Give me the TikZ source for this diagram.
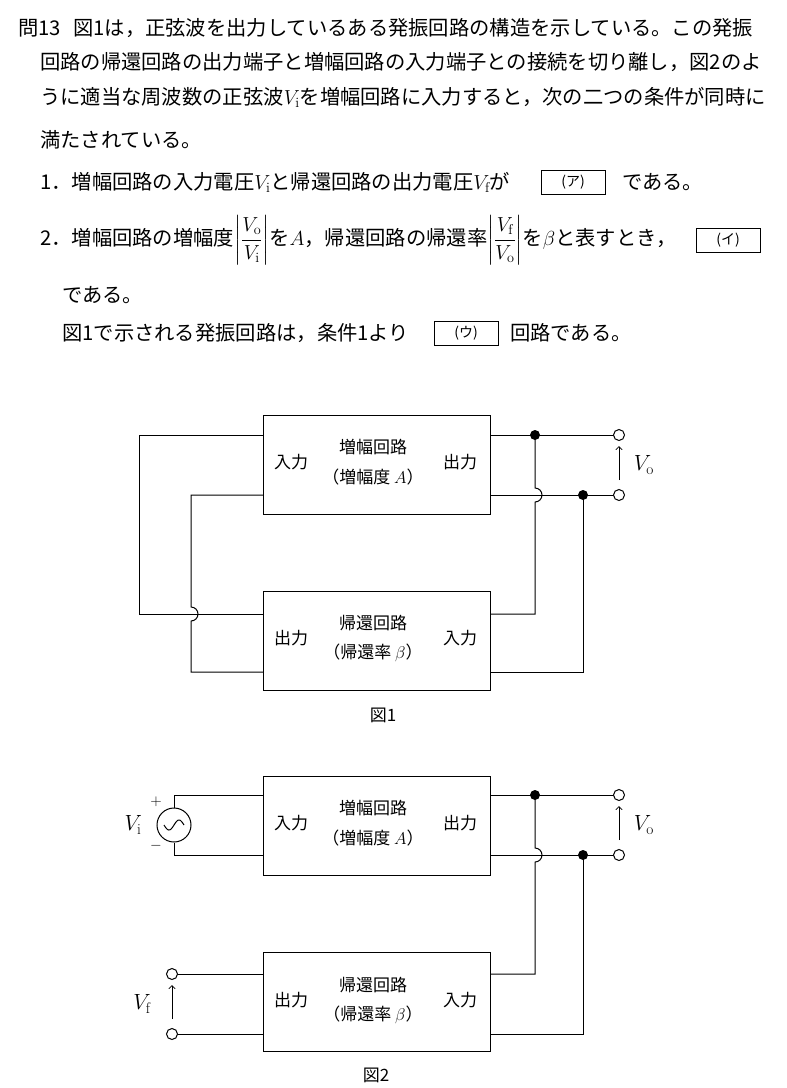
\RequirePackage{fix-cm}
\documentclass[tikz,border=0pt]{standalone}
\usepackage{amsmath}
\usepackage{fontspec}
\newfontfamily\jp{Noto Sans CJK JP}
\usetikzlibrary{arrows}

\tikzset{
  blk/.style={draw,line width=1pt,minimum width=227pt,minimum height=99pt,inner sep=0pt},
  lbl/.style={font=\jp\fontsize{17}{20}\selectfont,inner sep=0pt},
  vlbl/.style={font=\fontsize{22}{24}\selectfont,inner sep=0pt},
  txt/.style={font=\jp\fontsize{20.3}{24}\selectfont,anchor=west,inner sep=0pt},
  ans/.style={draw,line width=0.6pt,minimum width=64pt,minimum height=24pt,inner sep=0pt,font=\jp\fontsize{14}{16}\selectfont},
  wire/.style={line width=1pt},
  dot/.style={circle,fill,inner sep=0pt,minimum size=10pt},
  term/.style={circle,draw,fill=white,line width=1pt,inner sep=0pt,minimum size=11pt}
}

\begin{document}
\begin{tikzpicture}[x=1pt,y=-1pt]
    \useasboundingbox (0,0) rectangle (787,1088);

    % question text
    \node[txt] (l1) at (18,28) {問13\hspace{0.6em}図1は，正弦波を出力しているある発振回路の構造を示している。この発振};
    \node[txt] (l2) at (40,62) {回路の帰還回路の出力端子と増幅回路の入力端子との接続を切り離し，図2のよ};
    \node[txt] (l3) at (40,97) {うに適当な周波数の正弦波$V_\mathrm{i}$を増幅回路に入力すると，次の二つの条件が同時に};
    \node[txt] (l4) at (40,140) {満たされている。};
    \node[txt] (l5) at (40,182) {1．増幅回路の入力電圧$V_\mathrm{i}$と帰還回路の出力電圧$V_\mathrm{f}$が};
    \node[ans] (a1) at (573,182) {(ア)};
    \node[txt] (l5b) at (622,182) {である。};
    \node[txt] (l6) at (40,240) {2．増幅回路の増幅度$\left|\dfrac{V_\mathrm{o}}{V_\mathrm{i}}\right|$を$A$，帰還回路の帰還率$\left|\dfrac{V_\mathrm{f}}{V_\mathrm{o}}\right|$を$\beta$と表すとき，};
    \node[ans] (a2) at (728,240) {(イ)};
    \node[txt] (l7) at (62,295) {である。};
    \node[txt] (l8) at (62,333) {図1で示される発振回路は，条件1より};
    \node[ans] (a3) at (466,333) {(ウ)};
    \node[txt] (l8b) at (510,333) {回路である。};

    % figure 1
    \node[blk] (amp1) at (376.5,464.5) {};
    \node[lbl] at (373,447) {増幅回路};
    \node[lbl] at (373,477) {（増幅度 $A$）};
    \node[lbl] at (291,462) {入力};
    \node[lbl] at (460,462) {出力};
    \node[blk] (fb1) at (376.5,640.5) {};
    \node[lbl] at (373,623) {帰還回路};
    \node[lbl] at (373,653) {（帰還率 $\beta$）};
    \node[lbl] at (291,638) {出力};
    \node[lbl] at (460,638) {入力};
    \coordinate (ai1) at (263,435);  \coordinate (ai2) at (263,495);
    \coordinate (ao1) at (490,435);  \coordinate (ao2) at (490,495);
    \coordinate (fo1) at (263,614);  \coordinate (fo2) at (263,672);
    \coordinate (fi1) at (490,614);  \coordinate (fi2) at (490,672);
    \draw[wire] (ai1) -| (139,614) -- (fo1);
    \draw[wire] (ai2) -| (191,607) arc[start angle=-90,end angle=90,radius=7] |- (fo2);
    \draw[wire] (ao1) -- (619,435);
    \draw[wire] (ao2) -- (619,495);
    \draw[wire] (535,435) -- (535,488) arc[start angle=-90,end angle=90,radius=7] |- (fi1);
    \draw[wire] (583,495) |- (fi2);
    \node[dot] (d1) at (535,435) {};
    \node[dot] (d2) at (583,495) {};
    \node[term] (t1) at (619,435) {};
    \node[term] (t2) at (619,495) {};
    \draw[->,>=angle 90,line width=0.8pt] (619,480) -- (619,446);
    \node[vlbl] at (644,465) {$V_\mathrm{o}$};
    \node[lbl] at (383,715) {図1};

    % figure 2
    \node[blk] (amp2) at (376.5,825.5) {};
    \node[lbl] at (373,808) {増幅回路};
    \node[lbl] at (373,838) {（増幅度 $A$）};
    \node[lbl] at (291,823) {入力};
    \node[lbl] at (460,823) {出力};
    \node[blk] (fb2) at (376.5,1002) {};
    \node[lbl] at (373,985) {帰還回路};
    \node[lbl] at (373,1015) {（帰還率 $\beta$）};
    \node[lbl] at (291,1000) {出力};
    \node[lbl] at (460,1000) {入力};
    \node[circle,draw,line width=1pt,minimum size=34pt,inner sep=0pt] (src) at (174,825) {};
    \draw[line width=1pt] plot[domain=-1:1,samples=30,smooth] ({174+10*\x},{825-5*sin(\x*180)});
    \draw[wire] (src.north) -- (174,795) -- (263,795);
    \draw[wire] (src.south) -- (174,855) -- (263,855);
    \node[lbl,font=\fontsize{15}{17}\selectfont] at (156,802) {$+$};
    \node[lbl,font=\fontsize{15}{17}\selectfont] at (156,846) {$-$};
    \node[vlbl] at (133,825) {$V_\mathrm{i}$};
    \draw[wire] (490,795) -- (619,795);
    \draw[wire] (490,855) -- (619,855);
    \draw[wire] (535,795) -- (535,848) arc[start angle=-90,end angle=90,radius=7] |- (490,974);
    \draw[wire] (583,855) |- (490,1034);
    \node[dot] (d3) at (535,795) {};
    \node[dot] (d4) at (583,855) {};
    \node[term] (t3) at (619,795) {};
    \node[term] (t4) at (619,855) {};
    \draw[->,>=angle 90,line width=0.8pt] (619,840) -- (619,806);
    \node[vlbl] at (644,825) {$V_\mathrm{o}$};
    \draw[wire] (172,974) -- (263,974);
    \draw[wire] (172,1034) -- (263,1034);
    \node[term] (t5) at (172,974) {};
    \node[term] (t6) at (172,1034) {};
    \draw[->,>=angle 90,line width=0.8pt] (172,1019) -- (172,985);
    \node[vlbl] at (142,1004) {$V_\mathrm{f}$};
    \node[lbl] at (376,1075) {図2};
\end{tikzpicture}
\end{document}
